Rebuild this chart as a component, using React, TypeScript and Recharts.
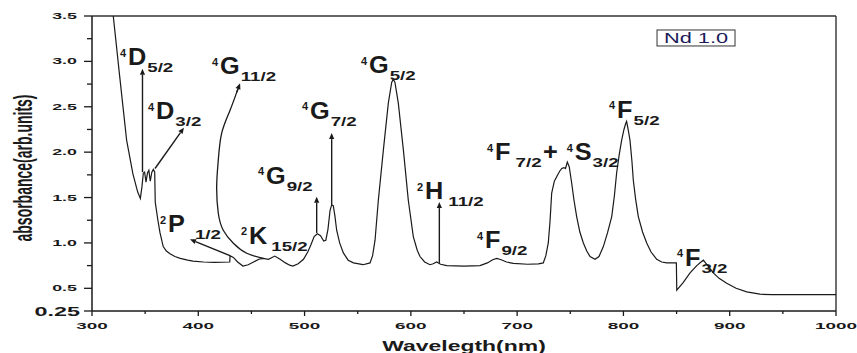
import { LineChart, Line, XAxis, YAxis, ReferenceLine, ReferenceDot } from 'recharts'

const FONT = '"Liberation Sans", Arial, Helvetica, sans-serif'
const INK = '#1a1a1a'

// absorption trace (nm -> absorbance)
const wavelength = [
  320, 326, 332.6, 338.5, 343, 345.5, 347, 348.3, 349.5, 350.8, 352.2, 353.5, 354.8, 356.3, 357.7, 359, 359.5,
  362, 364, 367, 370, 373.4, 378, 383, 390, 395, 405, 415, 429.6, 429.9, 433, 437, 442, 447, 452, 457, 461, 466,
  472, 477, 482, 486, 489, 494, 499, 503, 506, 509, 512, 515, 518, 520, 522, 524, 525.5, 527, 528.5, 530.2, 533,
  536.5, 541, 546, 555, 561.6, 564, 566.3, 569.4, 574.1, 578.8, 582, 583.5, 585, 588.2, 593, 597.6, 602.3, 606,
  608.6, 613, 618, 621, 624.3, 628, 633.7, 650, 665, 672, 677, 680.8, 685, 690, 696.4, 710, 720, 724.6, 727, 729.3,
  731, 732.5, 735, 737.2, 740, 742, 744, 745.5, 747.2, 749, 751.3, 753.5, 756, 759, 762.3, 765.5, 768.6, 773.3, 777,
  781.1, 785, 789, 791.5, 793.6, 796, 798.3, 800.5, 802, 803, 804.3, 806.2, 808, 809.3, 811.5, 814, 818, 821.9, 826,
  831.3, 836, 840.7, 849.8, 850.2, 856, 862.7, 869, 873, 875.2, 878, 884.6, 890, 897.2, 906, 916, 928.5, 940, 1000,
]
const absorbance = [
  3.5, 2.84, 2.13, 1.76, 1.56, 1.49, 1.62, 1.77, 1.78, 1.67, 1.77, 1.8, 1.68, 1.78, 1.81, 1.78, 1.45,
  1.25, 1.11, 0.96, 0.91, 0.88, 0.85, 0.83, 0.81, 0.8, 0.79, 0.785, 0.79, 0.86, 0.84, 0.79, 0.745, 0.76, 0.79, 0.82, 0.83, 0.82,
  0.855, 0.82, 0.78, 0.755, 0.745, 0.77, 0.82, 0.9, 0.98, 1.07, 1.1, 1.08, 1.02, 1.03, 1.15, 1.36, 1.42, 1.41, 1.3, 1.14, 1.0,
  0.89, 0.81, 0.78, 0.76, 0.78, 0.86, 1.03, 1.47, 2.02, 2.54, 2.77, 2.8, 2.77, 2.54, 2.02, 1.47, 1.07, 0.92,
  0.85, 0.79, 0.76, 0.77, 0.79, 0.765, 0.75, 0.745, 0.75, 0.78, 0.815, 0.83, 0.815, 0.79, 0.775, 0.765, 0.77, 0.78, 0.86, 1.0,
  1.25, 1.55, 1.68, 1.73, 1.79, 1.82, 1.83, 1.82, 1.89, 1.84, 1.66, 1.47, 1.29, 1.12, 1.0, 0.91, 0.85, 0.82, 0.85,
  0.96, 1.11, 1.29, 1.52, 1.77, 1.97, 2.13, 2.25, 2.31, 2.34, 2.26, 2.13, 1.9, 1.69, 1.48, 1.29, 1.12, 1.0, 0.9,
  0.82, 0.79, 0.78, 0.78, 0.48, 0.56, 0.67, 0.75, 0.79, 0.81, 0.77, 0.67, 0.61, 0.555, 0.5, 0.46, 0.435, 0.43, 0.43,
]

// hand-drawn leader from the 4G11/2 label down to the trace
const leaderNm = [461.2, 445.6, 433, 423.5, 418.8, 417.3, 418.8, 422, 429.8, 437.4]
const leaderAbs = [0.83, 0.886, 0.996, 1.14, 1.33, 1.62, 1.91, 2.21, 2.46, 2.7]

const xTicks = [300, 350, 400, 450, 500, 550, 600, 650, 700, 750, 800, 850, 900, 950, 1000]
const yTicks = [0.25, 0.5, 0.75, 1.0, 1.25, 1.5, 1.75, 2.0, 2.25, 2.5, 2.75, 3.0, 3.25, 3.5]

// term labels: anchor (nm, absorbance) = left edge / baseline
const termNm = [326.3, 352.7, 412.9, 364, 440.2, 456.2, 497.6, 553.1, 605.8, 662.2, 671.7, 724.4, 746.6, 786.5, 850.4]
const termAbs = [2.96, 2.365, 2.86, 1.12, 0.99, 1.65, 2.37, 2.87, 1.48, 0.94, 1.91, 1.91, 1.91, 2.38, 0.75]
const termSup = ['4', '4', '4', '2', '2', '4', '4', '4', '2', '4', '4', '', '4', '4', '4']
const termMain = ['D', 'D', 'G', 'P', 'K', 'G', 'G', 'G', 'H', 'F', 'F', '+', 'S', 'F', 'F']
const termSub = ['5/2', '3/2', '11/2', '1/2', '15/2', '9/2', '7/2', '5/2', '11/2', '9/2', '7/2', '', '3/2', '5/2', '3/2']

// arrows: base -> tip
const arrowFromNm = [347.5, 359.3, 429.8, 511.4, 525.5, 626.8, 436.2]
const arrowFromAbs = [1.78, 1.82, 0.86, 1.11, 1.42, 0.78, 2.66]
const arrowToNm = [347.5, 386.5, 392.2, 511.4, 525.5, 626.8, 439.3]
const arrowToAbs = [2.92, 2.27, 1.04, 1.51, 2.21, 1.45, 2.76]

const spectrum = wavelength.map((x, i) => ({ x, y: absorbance[i] }))
const leader = leaderNm.map((x, i) => ({ x, y: leaderAbs[i] }))

const MAIN_SIZE = 23
const MAIN_W: Record<string, number> = { D: 0.722, G: 0.778, P: 0.667, K: 0.722, H: 0.722, F: 0.611, S: 0.667, '+': 0.584 }
const SUB_GAP: Record<string, number> = { P: 10, K: 4, H: 5 }

function TermLabel({ cx, cy, sup, main, sub, gap }: any) {
  const mainX = sup ? cx + 8 : cx
  const subX = mainX + (MAIN_W[main] ?? 0.7) * MAIN_SIZE * 1.1 + gap
  return (
    <g fontFamily={FONT} fontWeight={700} fill={INK}>
      {sup && (
        <text x={cx} y={cy - 8.5} fontSize={11}>
          {sup}
        </text>
      )}
      <text transform={`translate(${mainX},${cy}) scale(1.1,1)`} fontSize={MAIN_SIZE}>
        {main}
      </text>
      {sub && (
        <text transform={`translate(${subX},${cy + 7}) scale(1.5,1)`} fontSize={12.5}>
          {sub}
        </text>
      )}
    </g>
  )
}

function ArrowShape(p: any) {
  const { x1, y1, x2, y2 } = p
  const dx = x2 - x1
  const dy = y2 - y1
  const len = Math.hypot(dx, dy) || 1
  const ux = dx / len
  const uy = dy / len
  const hl = 6
  const hw = 2.6
  const bx = x2 - ux * hl
  const by = y2 - uy * hl
  const pts = `${x2},${y2} ${bx - uy * hw},${by + ux * hw} ${bx + uy * hw},${by - ux * hw}`
  return (
    <g>
      <line x1={x1} y1={y1} x2={bx} y2={by} stroke={INK} strokeWidth={1.4} />
      <polygon points={pts} fill={INK} />
    </g>
  )
}

function XTick({ x, y, payload }: any) {
  const v = payload.value
  const major = v % 100 === 0
  return (
    <g>
      <line x1={x} x2={x} y1={y} y2={y + (major ? 5 : 3)} stroke={INK} strokeWidth={1.3} />
      {major && (
        <text
          transform={`translate(${x},${y + 18}) scale(2.1,1)`}
          textAnchor="middle"
          fontSize={9}
          fontWeight={700}
          fontFamily={FONT}
          fill={INK}
        >
          {v}
        </text>
      )}
    </g>
  )
}

function YTick({ x, y, payload }: any) {
  const v = payload.value
  const big = v === 0.25
  const major = big || Number.isInteger(v * 2)
  return (
    <g>
      <line x1={x - (major ? 8 : 5)} x2={x} y1={y} y2={y} stroke={INK} strokeWidth={1.3} />
      {major && (
        <text
          transform={`translate(${x - (big ? 12 : 15)},${y + (big ? 5 : 3)}) scale(${big ? 1.95 : 2.1},1)`}
          textAnchor="end"
          fontSize={big ? 12 : 8.5}
          fontWeight={700}
          fontFamily={FONT}
          fill={INK}
        >
          {big ? '0.25' : v.toFixed(1)}
        </text>
      )}
    </g>
  )
}

function LegendBox({ cx, cy }: any) {
  return (
    <g>
      <rect x={cx} y={cy} width={78} height={16} fill="#fff" stroke="#333" strokeWidth={1} />
      <text
        transform={`translate(${cx + 39},${cy + 13.5}) scale(1.5,1)`}
        textAnchor="middle"
        fontSize={14.5}
        fontFamily={FONT}
        fill="#1c1c5a"
      >
        Nd 1.0
      </text>
    </g>
  )
}

export default function App() {
  return (
    <div style={{ position: 'absolute', left: 0, top: 0, width: 857, height: 353, background: '#fff' }}>
      <LineChart width={857} height={353} margin={{ top: 16, right: 21, bottom: 0, left: 0 }}>
        <XAxis
          type="number"
          dataKey="x"
          domain={[300, 1000]}
          allowDataOverflow
          ticks={xTicks}
          interval={0}
          height={42}
          tickSize={0}
          tickMargin={0}
          tickLine={false}
          axisLine={{ stroke: INK, strokeWidth: 1.5 }}
          tick={(p: any) => <XTick {...p} />}
          label={{
            content: () => (
              <text
                transform="translate(464,350.5) scale(1.64,1)"
                textAnchor="middle"
                fontSize={14}
                fontWeight={700}
                fontFamily={FONT}
                fill={INK}
              >
                Wavelegth(nm)
              </text>
            ),
          }}
        />
        <YAxis
          type="number"
          domain={[0.25, 3.5]}
          allowDataOverflow
          ticks={yTicks}
          interval={0}
          width={92}
          tickSize={0}
          tickMargin={0}
          tickLine={false}
          axisLine={{ stroke: INK, strokeWidth: 1.5 }}
          tick={(p: any) => <YTick {...p} />}
          label={{
            content: () => (
              <text
                transform="translate(31.5,168) scale(1.9,1) rotate(-90)"
                textAnchor="middle"
                fontSize={14}
                fontWeight={700}
                fontFamily={FONT}
                fill={INK}
              >
                absorbance(arb.units)
              </text>
            ),
          }}
        />
        <ReferenceLine y={3.5} stroke="#333" strokeWidth={1.4} />
        <ReferenceLine x={1000} stroke="#333" strokeWidth={1.4} />

        <Line
          data={spectrum}
          dataKey="y"
          type="linear"
          stroke={INK}
          strokeWidth={1.2}
          dot={false}
          activeDot={false}
          isAnimationActive={false}
        />
        <Line
          data={leader}
          dataKey="y"
          type="natural"
          stroke={INK}
          strokeWidth={1.3}
          dot={false}
          activeDot={false}
          isAnimationActive={false}
        />

        {arrowFromNm.map((nm, i) => (
          <ReferenceLine
            key={`arrow-${i}`}
            segment={[
              { x: nm, y: arrowFromAbs[i] },
              { x: arrowToNm[i], y: arrowToAbs[i] },
            ]}
            shape={(p: any) => <ArrowShape {...p} />}
          />
        ))}

        {termNm.map((nm, i) => (
          <ReferenceDot
            key={`term-${i}`}
            x={nm}
            y={termAbs[i]}
            r={0}
            shape={(p: any) => (
              <TermLabel
                cx={p.cx}
                cy={p.cy}
                sup={termSup[i]}
                main={termMain[i]}
                sub={termSub[i]}
                gap={i === 10 ? 5 : SUB_GAP[termMain[i]] ?? 1}
              />
            )}
          />
        ))}

        <ReferenceDot x={831.6} y={3.346} r={0} shape={(p: any) => <LegendBox cx={p.cx} cy={p.cy} />} />
      </LineChart>
    </div>
  )
}
